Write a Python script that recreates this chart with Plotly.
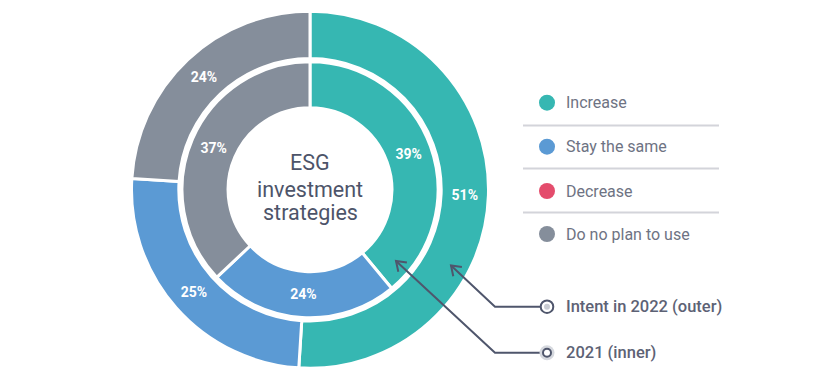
import math
import plotly.graph_objects as go

W, H = 830, 380

# ---- data ----
categories = ["Increase", "Stay the same", "Decrease", "Do no plan to use"]
colors = ["#36b7b2", "#5b9ad4", "#e44c6c", "#858e9b"]
outer_2022 = [51, 25, 0, 24]   # Intent in 2022 (outer)
inner_2021 = [39, 24, 0, 37]   # 2021 (inner)
center_title = ["ESG", "investment", "strategies"]
ring_labels = ["Intent in 2022 (outer)", "2021 (inner)"]

def px_x(x):
    return x / W

def px_y(y):
    return 1 - y / H

def nonzero(vals):
    idx = [i for i, v in enumerate(vals) if v > 0]
    return ([categories[i] for i in idx], [vals[i] for i in idx], [colors[i] for i in idx])

cx, cy = 310, 189.7

fig = go.Figure()

def add_ring(vals, r, hole, name):
    labs, v, cols = nonzero(vals)
    fig.add_trace(go.Pie(
        labels=labs, values=v, name=name,
        marker=dict(colors=cols, line=dict(color="white", width=3)),
        hole=hole, sort=False, direction="clockwise", rotation=0,
        texttemplate="%{value}%", textposition="inside",
        insidetextorientation="horizontal",
        textfont=dict(family="Roboto", size=14, color="white", weight="bold"),
        domain=dict(x=[px_x(cx - r), px_x(cx + r)], y=[px_y(cy + r), px_y(cy - r)]),
        showlegend=False, hoverinfo="label+value",
    ))

add_ring(outer_2022, 178.5, 0.735, "Intent in 2022")
add_ring(inner_2021, 128, 0.64, "2021")

shapes = []
annotations = []

# center title (one annotation per line for tighter line spacing)
for line, ly in zip(center_title, [162.5, 189, 212.5]):
    annotations.append(dict(
        x=px_x(cx), y=px_y(ly), xref="paper", yref="paper",
        text=line, showarrow=False,
        font=dict(family="Roboto", size=21.5, color="#4d5469"),
        xanchor="center", yanchor="middle", align="center",
    ))

# custom legend
leg_x, leg_ys = 547, [102.7, 146.7, 191, 234]
for name, col, ly in zip(categories, colors, leg_ys):
    r = 8
    shapes.append(dict(type="circle", xref="paper", yref="paper",
                       x0=px_x(leg_x - r), x1=px_x(leg_x + r),
                       y0=px_y(ly + r), y1=px_y(ly - r),
                       fillcolor=col, line=dict(width=0)))
    annotations.append(dict(x=px_x(564), y=px_y(ly), xref="paper", yref="paper",
                            text=name, showarrow=False, xanchor="left", yanchor="middle",
                            font=dict(family="Roboto", size=16, color="#6e7383")))
for sy in [125.5, 168.5, 212.5]:
    shapes.append(dict(type="line", xref="paper", yref="paper",
                       x0=px_x(523), x1=px_x(719), y0=px_y(sy), y1=px_y(sy),
                       line=dict(color="#d3d4da", width=2)))

# arrows
line_col = "#4f566c"
def arrow(y_row, tip):
    kx = 495
    pts = [(541, y_row), (kx, y_row), tip]
    path = "M " + " L ".join(f"{px_x(x)},{px_y(y)}" for x, y in pts)
    shapes.append(dict(type="path", xref="paper", yref="paper", path=path,
                       line=dict(color=line_col, width=2)))
    # chevron head
    dx, dy = tip[0] - kx, tip[1] - y_row
    ang = math.atan2(dy, dx)
    L = 11
    arms = []
    for s in (-1, 1):
        a = ang + math.pi + s * math.radians(35)
        arms.append((tip[0] + L * math.cos(a), tip[1] + L * math.sin(a)))
    p = [arms[0], tip, arms[1]]
    shapes.append(dict(type="path", xref="paper", yref="paper",
                       path="M " + " L ".join(f"{px_x(x)},{px_y(y)}" for x, y in p),
                       line=dict(color=line_col, width=2)))

arrow(306.7, (451, 265.5))
arrow(352.7, (396, 261))

def circ(x, y, r, fill, lc, lw):
    shapes.append(dict(type="circle", xref="paper", yref="paper",
                       x0=px_x(x - r), x1=px_x(x + r), y0=px_y(y + r), y1=px_y(y - r),
                       fillcolor=fill, line=dict(color=lc, width=lw)))

# outer marker
circ(547, 306.7, 6.3, "white", line_col, 2)
circ(547, 306.7, 3, "#c9ccd3", "#c9ccd3", 0)
# inner marker
circ(547, 352.7, 7.5, "#d5d8de", "#d5d8de", 0)
circ(547, 352.7, 4, "white", line_col, 2)

for txt, ly in zip(ring_labels, [306.7, 352.7]):
    annotations.append(dict(x=px_x(564), y=px_y(ly), xref="paper", yref="paper",
                            text=txt, showarrow=False, xanchor="left", yanchor="middle",
                            font=dict(family="Roboto", size=16.5, color="#5d6275", weight=500)))

fig.update_layout(
    width=W, height=H, margin=dict(l=0, r=0, t=0, b=0),
    paper_bgcolor="white", plot_bgcolor="white",
    shapes=shapes, annotations=annotations, showlegend=False,
)

fig.write_html("out.html", config={"displayModeBar": False},
               post_script="document.body.style.margin='0';")
